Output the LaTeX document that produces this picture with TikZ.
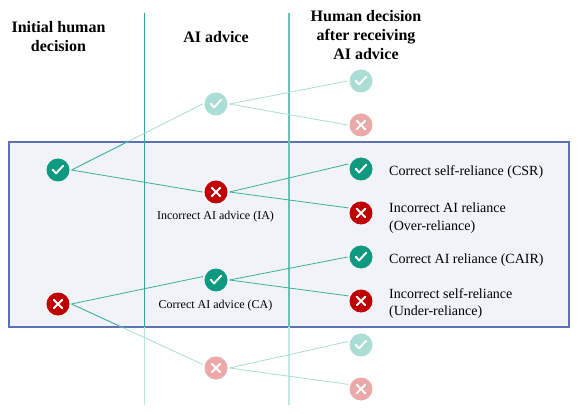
\documentclass[tikz,border=0pt]{standalone}
\usepackage{fontspec}
\setmainfont{Liberation Serif}
\definecolor{tealdark}{HTML}{0E9A80}
\definecolor{teallight}{HTML}{AADDD4}
\definecolor{reddark}{HTML}{C00000}
\definecolor{redlight}{HTML}{EBA9A9}
\definecolor{panelfill}{HTML}{F1F3F9}
\definecolor{panelline}{HTML}{5B73B5}
\tikzset{
  mark base/.style={circle, minimum size=23pt, inner sep=0pt, outer sep=2pt},
  tickmark/.style={mark base, fill=#1, path picture={
    \draw[white, line width=1.9pt, line cap=round, line join=round]
      ([shift={(-5.2pt,0.2pt)}]path picture bounding box.center) -- ++(3.3pt,-3.6pt) -- ++(7pt,7.6pt);}},
  crossmark/.style={mark base, fill=#1, path picture={
    \draw[white, line width=1.9pt, line cap=round]
      ([shift={(-4.2pt,-4.2pt)}]path picture bounding box.center) -- ++(8.4pt,8.4pt)
      ([shift={(-4.2pt,4.2pt)}]path picture bounding box.center) -- ++(8.4pt,-8.4pt);}}
}
\begin{document}
\begin{tikzpicture}[
  x=1pt, y=-1pt,
  every node/.style={font=\fontsize{12pt}{14pt}\selectfont},
  head/.style={align=center, font=\fontsize{16pt}{19pt}\selectfont\bfseries},
  outcome/.style={anchor=west, align=left, inner sep=0pt, font=\fontsize{14pt}{17.5pt}\selectfont},
  panel/.style={draw=panelline, fill=panelfill, line width=1.2pt, minimum width=560pt, minimum height=185pt, inner sep=0pt},
  edge/.style={line width=0.8pt, draw=#1}
]
\useasboundingbox (0,0) rectangle (581,414);
\node[panel] (focus) at (289,234.5) {};

\coordinate (lineatop) at (144,13);
\coordinate (lineamid) at (144,327);
\coordinate (lineaend) at (144,405);
\coordinate (linebtop) at (289,13);
\coordinate (linebmid) at (289,327);
\coordinate (linebend) at (289,405);
\draw[line width=1pt, draw=tealdark!85] (lineatop) -- (lineamid);
\draw[line width=1pt, draw=teallight!80] (lineamid) -- (lineaend);
\draw[line width=1.2pt, draw=tealdark!60] (linebtop) -- (linebmid);
\draw[line width=1.2pt, draw=teallight!70] (linebmid) -- (linebend);

\node[tickmark=tealdark] (hyes) at (58,170) {};
\node[crossmark=reddark] (hno) at (58,304) {};
\node[tickmark=teallight] (aitop) at (216,104) {};
\node[crossmark=reddark] (aiia) at (216,192) {};
\node[tickmark=tealdark] (aica) at (216,280) {};
\node[crossmark=redlight] (aibot) at (216,368) {};
\node[tickmark=teallight] (fa) at (361,81) {};
\node[crossmark=redlight] (fb) at (361,125) {};
\node[tickmark=tealdark] (csr) at (361,169) {};
\node[crossmark=reddark] (over) at (361,213) {};
\node[tickmark=tealdark] (cair) at (361,257) {};
\node[crossmark=reddark] (under) at (361,301) {};
\node[tickmark=teallight] (fc) at (361,345) {};
\node[crossmark=redlight] (fd) at (361,389) {};

\draw[edge=teallight] (hyes.east) -- (aitop.west);
\draw[edge=teallight] (hno.east) -- (aibot.165);
\draw[edge=teallight] (aitop.east) -- (fa.west);
\draw[edge=teallight] (aitop.east) -- (fb.west);
\draw[edge=teallight] (aibot.east) -- (fc.165);
\draw[edge=teallight] (aibot.east) -- (fd.160);
\begin{scope}
\clip (focus.south west) rectangle (focus.north east);
\draw[edge=tealdark!80] (hyes.east) -- (aitop.west);
\draw[edge=tealdark!80] (hno.east) -- (aibot.165);
\end{scope}
\draw[edge=tealdark!80] (hyes.east) -- (aiia.west);
\draw[edge=tealdark!80] (hno.east) -- (aica.165);
\draw[edge=tealdark!80] (aiia.east) -- (csr.158);
\draw[edge=tealdark!80] (aiia.east) -- (over.158);
\draw[edge=tealdark!80] (aica.east) -- (cair.west);
\draw[edge=tealdark!80] (aica.east) -- (under.158);

\node[head] (hinit) at (58.5,37) {Initial human\\decision};
\node[head] (hai) at (216,37.5) {AI advice};
\node[head] (hfinal) at (366,35) {Human decision\\after receiving\\AI advice};

\node (labia) at (215.5,216.5) {Incorrect AI advice (IA)};
\node (labca) at (215.5,305.5) {Correct AI advice (CA)};
\node[outcome] (labcsr) at (389,172.5) {Correct self-reliance (CSR)};
\node[outcome] (labover) at (389,218) {Incorrect AI reliance\\(Over-reliance)};
\node[outcome] (labcair) at (389,260.5) {Correct AI reliance (CAIR)};
\node[outcome] (labunder) at (389,303.5) {Incorrect self-reliance\\(Under-reliance)};
\end{tikzpicture}
\end{document}
